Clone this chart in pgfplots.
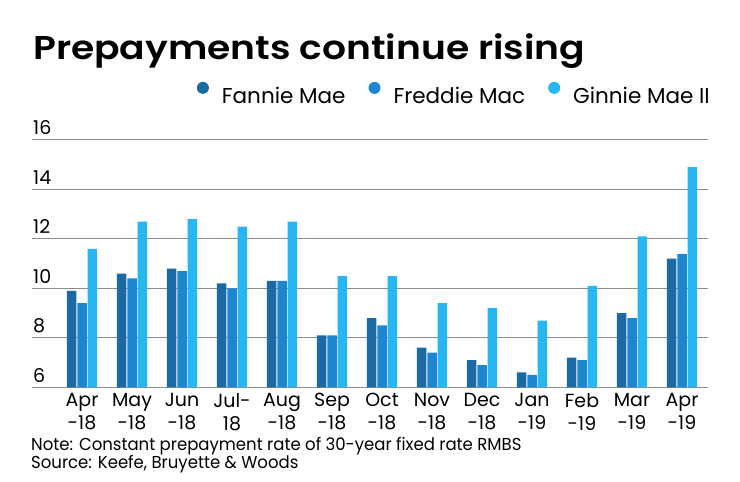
\documentclass[border=0pt]{standalone}
\usepackage{fontspec}
\setmainfont{Poppins}
\newfontfamily\titlefont{Poppins SemiBold}[FakeStretch=1.14]
\newfontfamily\notefont{Poppins}[FakeStretch=0.955]
\usepackage{pgfplots}
\usepackage{pgfplotstable}
\pgfplotsset{compat=1.18}

\definecolor{fannie}{HTML}{1B6AA3}
\definecolor{freddie}{HTML}{1C86D1}
\definecolor{ginnie}{HTML}{26B6F1}
\definecolor{gridgray}{HTML}{8C8C8C}

% constant prepayment rate, by month (Apr-18 .. Apr-19)
\pgfplotstableread{
x  fannie freddie ginnie
0  9.9    9.4     11.6
1  10.6   10.4    12.7
2  10.8   10.7    12.8
3  10.2   10.0    12.5
4  10.3   10.3    12.7
5  8.1    8.1     10.5
6  8.8    8.5     10.5
7  7.6    7.4     9.4
8  7.1    6.9     9.2
9  6.6    6.5     8.7
10 7.2    7.1     10.1
11 9.0    8.8     12.1
12 11.2   11.4    14.9
}\prepay

\begin{document}
\begin{tikzpicture}
\useasboundingbox (0,0) rectangle (740bp,482bp);

\node[anchor=base west, inner sep=0pt, font=\titlefont\fontsize{33bp}{38bp}\selectfont]
  at (33bp,422.7bp) {Prepayments continue rising};

\begin{axis}[
    at={(32bp,94.7bp)}, anchor=south west,
    scale only axis,
    width=676bp, height=247.3bp,
    xmin=-1, xmax=12.52,
    ymin=6, ymax=16,
    ytick={6,8,...,16},
    xtick={0,...,12},
    xticklabels={Apr\\-18,May\\-18,Jun\\-18,Jul-\\18,Aug\\-18,Sep\\-18,Oct\\-18,
                 Nov\\-18,Dec\\-18,Jan\\-19,Feb\\-19,Mar\\-19,Apr\\-19},
    axis line style={draw=none},
    tick style={draw=none},
    ymajorgrids,
    grid style={gridgray, line width=1bp},
    /pgf/number format/assume math mode=true,
    yticklabel style={anchor=base west, inner sep=0pt, xshift=1bp, yshift=5bp,
                      font=\fontsize{19bp}{22bp}\selectfont},
    xticklabel style={anchor=north, inner sep=0pt, yshift=-6bp, align=center,
                      font=\fontsize{19bp}{22.7bp}\selectfont},
    bar width=0.19,
    legend columns=3,
    legend cell align=left,
    legend style={draw=none, fill=none, at={(1,1)}, anchor=south east,
                  xshift=2bp, yshift=35bp, inner sep=0pt,
                  font=\fontsize{21.5bp}{24bp}\selectfont,
                  nodes={inner sep=0pt},
                  column sep=0pt,
                  /tikz/every even column/.append style={column sep=23bp}},
]
\addplot[ybar, bar shift=-0.206, fill=fannie, draw=none,
    legend image code/.code={\fill[fannie] (6bp,8bp) circle (6bp); \path (25bp,0bp);}]
    table[x=x, y=fannie] {\prepay};
\addlegendentry{Fannie Mae}
\addplot[ybar, bar shift=0, fill=freddie, draw=none,
    legend image code/.code={\fill[freddie] (6bp,8bp) circle (6bp); \path (25bp,0bp);}]
    table[x=x, y=freddie] {\prepay};
\addlegendentry{Freddie Mac}
\addplot[ybar, bar shift=0.206, fill=ginnie, draw=none,
    legend image code/.code={\fill[ginnie] (6bp,8bp) circle (6bp); \path (25bp,0bp);}]
    table[x=x, y=ginnie] {\prepay};
\addlegendentry{Ginnie Mae II}
\end{axis}

\node[anchor=base west, inner sep=0pt, font=\notefont\fontsize{17.3bp}{22bp}\selectfont]
  at (31bp,31.3bp) {Note: Constant prepayment rate of 30-year fixed rate RMBS};
\node[anchor=base west, inner sep=0pt, font=\notefont\fontsize{17.3bp}{22bp}\selectfont]
  at (31bp,13.7bp) {Source: Keefe, Bruyette \& Woods};
\end{tikzpicture}
\end{document}
